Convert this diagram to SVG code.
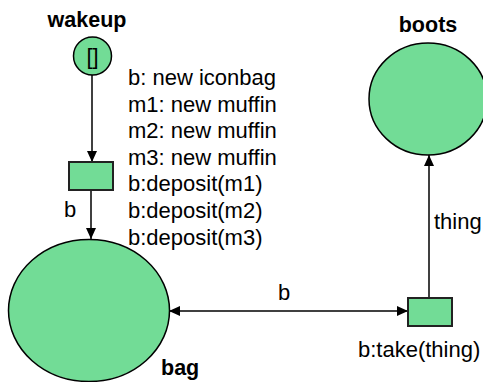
<svg xmlns="http://www.w3.org/2000/svg" width="483" height="382" viewBox="0 0 483 382">
<style>
.place{fill:#72dc96;stroke:#000;stroke-width:1.5}
.trans{fill:#72dc96;stroke:#222;stroke-width:2}
.edge{fill:none;stroke:#000;stroke-width:1.5}
.lbl{font-family:"Liberation Sans",Arial,sans-serif;font-size:22px;fill:#000}
.name{font-family:"Liberation Sans",Arial,sans-serif;font-size:21.5px;font-weight:bold;fill:#000}
</style>
<defs>
<marker id="arr" markerUnits="userSpaceOnUse" markerWidth="11" markerHeight="10" refX="11" refY="5" orient="auto-start-reverse">
<path d="M0,0 L11,5 L0,10 z" fill="#000"/>
</marker>
</defs>
<g id="connectors">
<line class="edge" x1="92" y1="75" x2="92" y2="162" marker-end="url(#arr)"/>
<line class="edge" x1="91" y1="190" x2="91" y2="239" marker-end="url(#arr)"/>
<text class="lbl" x="64" y="217">b</text>
<line class="edge" x1="169" y1="311" x2="408" y2="311" marker-start="url(#arr)" marker-end="url(#arr)"/>
<text class="lbl" x="278" y="300">b</text>
<line class="edge" x1="429" y1="298" x2="429" y2="155" marker-end="url(#arr)"/>
<text class="lbl" x="434" y="229">thing</text>
</g>
<g id="wakeup">
<circle class="place" cx="92.5" cy="56" r="19"/>
<text class="lbl" x="92.5" y="63.5" text-anchor="middle">[]</text>
<text class="name" x="87" y="27" text-anchor="middle">wakeup</text>
</g>
<g id="t1">
<rect class="trans" x="69" y="162" width="44" height="28"/>
<text class="lbl" x="128"><tspan x="128" y="85">b: new iconbag</tspan><tspan x="128" y="111.6">m1: new muffin</tspan><tspan x="128" y="138.2">m2: new muffin</tspan><tspan x="128" y="164.8">m3: new muffin</tspan><tspan x="128" y="191.4">b:deposit(m1)</tspan><tspan x="128" y="218">b:deposit(m2)</tspan><tspan x="128" y="244.6">b:deposit(m3)</tspan></text>
</g>
<g id="bag">
<ellipse class="place" cx="89" cy="310.5" rx="80.5" ry="71"/>
<text class="name" x="161" y="375">bag</text>
</g>
<g id="boots">
<ellipse class="place" cx="428" cy="99" rx="59" ry="56"/>
<text class="name" x="428" y="32" text-anchor="middle">boots</text>
</g>
<g id="t2">
<rect class="trans" x="408" y="298" width="44" height="28"/>
<text class="lbl" x="358" y="357">b:take(thing)</text>
</g>
</svg>
